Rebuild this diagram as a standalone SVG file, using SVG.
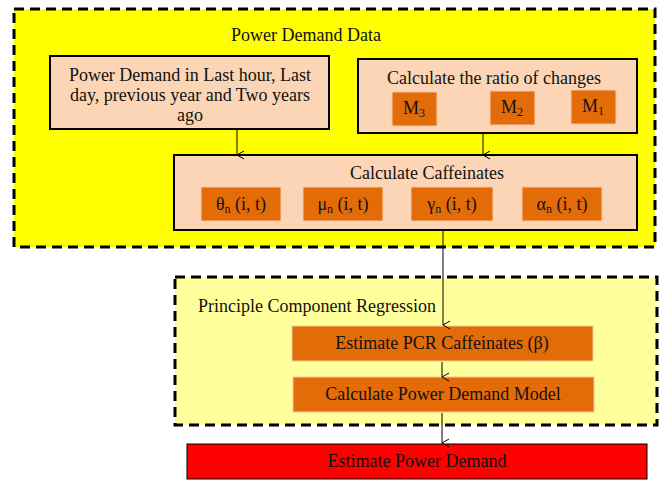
<svg xmlns="http://www.w3.org/2000/svg" width="666" height="481" viewBox="0 0 666 481">
<defs>
<marker id="arr" markerWidth="10" markerHeight="10" refX="5" refY="8" orient="auto" markerUnits="userSpaceOnUse" viewBox="0 0 10 10">
<path d="M1,1 L5,8 L9,1" fill="none" stroke="#000" stroke-width="1"/>
</marker>
</defs>
<style>
text{font-family:"Liberation Serif","Times New Roman",serif;font-size:18px;fill:#111;}
.mid{text-anchor:middle;}
.sub{font-size:12px;}
.group{stroke:#000;stroke-width:3;stroke-dasharray:10,6;}
.peach{fill:#fbd5b5;stroke:#000;stroke-width:2;}
.orange{fill:#e36c09;stroke:#f6c8a4;stroke-width:1;}
.conn{stroke:#000;stroke-width:1;fill:none;marker-end:url(#arr);}
</style>
<g id="group-power-demand-data">
<rect class="group" x="14" y="9" width="641" height="238" fill="#ffff00"/>
<text x="231" y="41">Power Demand Data</text>
</g>
<g id="group-pcr">
<rect class="group" x="175" y="277" width="482" height="148" fill="#ffff9c"/>
<text x="198" y="312">Principle Component Regression</text>
</g>
<g id="node-inputs">
<rect class="peach" x="50" y="56" width="279" height="73"/>
<text class="mid" x="190" y="81">Power Demand in Last hour, Last</text>
<text class="mid" x="190" y="101">day, previous year and Two years</text>
<text class="mid" x="190" y="121">ago</text>
</g>
<g id="node-ratio">
<rect class="peach" x="358" y="59" width="279" height="74"/>
<text class="mid" x="494" y="84">Calculate the ratio of changes</text>
<rect class="orange" x="392" y="92" width="45" height="34"/>
<text class="mid" x="414" y="114">M<tspan class="sub" dy="3">3</tspan></text>
<rect class="orange" x="490" y="91" width="45" height="34"/>
<text class="mid" x="512" y="113">M<tspan class="sub" dy="3">2</tspan></text>
<rect class="orange" x="571" y="90" width="45" height="34"/>
<text class="mid" x="593" y="112">M<tspan class="sub" dy="3">1</tspan></text>
</g>
<g id="node-caffeinates">
<rect class="peach" x="174" y="155" width="463" height="75"/>
<text class="mid" x="427" y="179">Calculate Caffeinates</text>
<rect class="orange" x="201" y="187" width="80" height="34"/>
<text class="mid" x="241" y="210">θ<tspan class="sub" dy="3">n</tspan><tspan dy="-3"> (i, t)</tspan></text>
<rect class="orange" x="303" y="187" width="80" height="34"/>
<text class="mid" x="343" y="210">μ<tspan class="sub" dy="3">n</tspan><tspan dy="-3"> (i, t)</tspan></text>
<rect class="orange" x="411" y="187" width="82" height="34"/>
<text class="mid" x="452" y="210">γ<tspan class="sub" dy="3">n</tspan><tspan dy="-3"> (i, t)</tspan></text>
<rect class="orange" x="522" y="187" width="80" height="34"/>
<text class="mid" x="562" y="210">α<tspan class="sub" dy="3">n</tspan><tspan dy="-3"> (i, t)</tspan></text>
</g>
<g id="node-estimate-pcr">
<rect class="orange" x="292" y="326" width="301" height="35"/>
<text class="mid" x="442" y="349">Estimate PCR Caffeinates (β)</text>
</g>
<g id="node-model">
<rect class="orange" x="293" y="377" width="301" height="35"/>
<text class="mid" x="443" y="400">Calculate Power Demand Model</text>
</g>
<g id="node-estimate-demand">
<rect x="187" y="444" width="460" height="35" fill="#ff0000" stroke="#000" stroke-width="1"/>
<text class="mid" x="417" y="467">Estimate Power Demand</text>
</g>
<g id="connectors">
<line class="conn" x1="237" y1="130" x2="237" y2="155"/>
<line class="conn" x1="483" y1="134" x2="483" y2="155"/>
<line class="conn" x1="443" y1="231" x2="443" y2="325"/>
<line class="conn" x1="442" y1="362" x2="442" y2="377"/>
<line class="conn" x1="442" y1="413" x2="442" y2="443"/>
</g>
</svg>
